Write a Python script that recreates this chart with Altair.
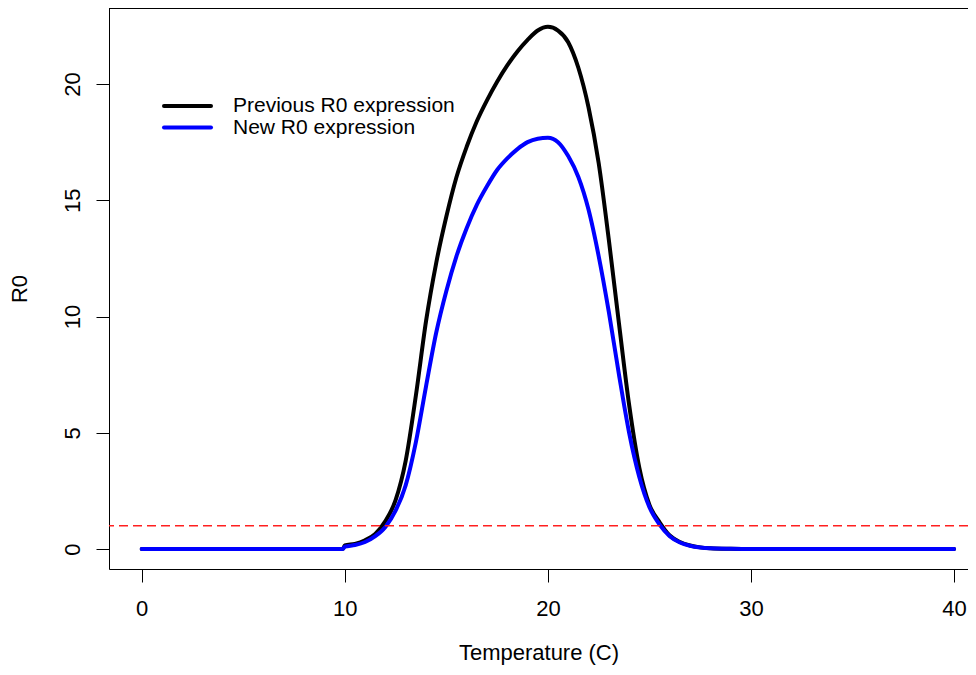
import altair as alt
import pandas as pd

# ---- data ----
temps = [0, 9.9, 10.0, 10.5, 11.0, 11.5, 12.0, 12.5, 13.0, 13.5, 14.0, 14.5, 15.0,
         15.5, 16.0, 16.5, 17.0, 17.5, 18.0, 18.5, 19.0, 19.5, 20.0, 20.5, 21.0,
         21.5, 22.0, 22.5, 23.0, 23.5, 24.0, 24.5, 25.0, 25.5, 26.0, 26.5, 27.0,
         27.5, 28.0, 29.0, 30.0, 40.0]
prev_r0 = [0, 0, 0.15, 0.22, 0.38, 0.65, 1.2, 2.1, 3.8, 6.6, 9.8, 12.3, 14.3,
           16.0, 17.3, 18.4, 19.3, 20.1, 20.8, 21.4, 21.9, 22.3, 22.46, 22.3, 21.8,
           20.7, 19.0, 16.6, 13.3, 9.7, 6.2, 3.5, 1.9, 1.15, 0.58, 0.3, 0.15,
           0.07, 0.035, 0.01, 0, 0]
new_r0 = [0, 0, 0.1, 0.17, 0.3, 0.55, 0.95, 1.65, 2.75, 4.6, 7.0, 9.3, 11.1,
          12.6, 13.8, 14.8, 15.6, 16.3, 16.8, 17.2, 17.5, 17.65, 17.69, 17.5, 16.9,
          16.0, 14.6, 12.6, 10.2, 7.5, 5.0, 3.1, 1.8, 1.05, 0.55, 0.28, 0.14,
          0.065, 0.03, 0.01, 0, 0]
series = ["Previous R0 expression", "New R0 expression"]
colors = ["#000000", "#0000ff"]
x_ticks = [0, 10, 20, 30, 40]
y_ticks = [0, 5, 10, 15, 20]
threshold = [1]

W, H = 859, 561
FONT = "Liberation Sans"
FS = 22
LFS = 21

df_prev = pd.DataFrame({"T": temps, "R0": prev_r0, "series": series[0]})
df_new = pd.DataFrame({"T": temps, "R0": new_r0, "series": series[1]})

xscale = alt.Scale(domain=[-1.61, 40.685], nice=False, zero=False)
yscale = alt.Scale(domain=[-0.86, 23.27], nice=False, zero=False)

xaxis = alt.Axis(values=x_ticks, title="Temperature (C)", grid=False, tickSize=13,
                 labelPadding=16, labelFontSize=FS, labelFont=FONT, labelColor="black",
                 titleFontSize=FS, titleFont=FONT, titleColor="black", titleFontWeight="normal",
                 titleY=83, titleBaseline="middle", labelFlush=False,
                 domainColor="black", tickColor="black", format="d")
yaxis = alt.Axis(values=y_ticks, title="R0", grid=False, tickSize=13,
                 labelAngle=270, labelAlign="center", labelBaseline="middle",
                 labelPadding=24, labelFontSize=FS, labelFont=FONT, labelColor="black",
                 titleFontSize=FS, titleFont=FONT, titleColor="black", titleFontWeight="normal",
                 titleAngle=270, titleX=-90, titleY=H / 2, titleAlign="center",
                 titleBaseline="middle", labelFlush=False,
                 domainColor="black", tickColor="black", format="d")


def curve(df, color):
    return alt.Chart(df).mark_line(strokeWidth=4, interpolate="monotone",
                                   strokeCap="round", color=color).encode(
        x=alt.X("T:Q", scale=xscale, axis=xaxis),
        y=alt.Y("R0:Q", scale=yscale, axis=yaxis),
    )


black = curve(df_prev, colors[0])
blue = curve(df_new, colors[1])

rule = alt.Chart(pd.DataFrame({"y": threshold})).mark_rule(
    color="#ff2020", strokeDash=[9, 5], strokeWidth=1.3
).encode(y=alt.Y("y:Q", scale=yscale))

top_border = alt.Chart(pd.DataFrame({"a": [0]})).mark_rule(color="black", strokeWidth=1).encode(
    x=alt.value(0), x2=alt.value(W), y=alt.value(0.5)
)

legend_layers = []
legend_y = [98, 119.5]
for label, col, ly in zip(series, colors, legend_y):
    legend_layers.append(
        alt.Chart(pd.DataFrame({"a": [0]})).mark_rule(color=col, strokeWidth=4, strokeCap="round").encode(
            x=alt.value(55), x2=alt.value(102), y=alt.value(ly)
        )
    )
    legend_layers.append(
        alt.Chart(pd.DataFrame({"a": [0]})).mark_text(
            align="left", baseline="middle", fontSize=LFS, font=FONT, color="black"
        ).encode(x=alt.value(124), y=alt.value(ly), text=alt.value(label))
    )

chart = alt.layer(black, blue, rule, top_border, *legend_layers).properties(
    width=W, height=H,
    autosize=alt.AutoSizeParams(type="none"),
    padding={"left": 101, "top": 0, "right": 0, "bottom": 98},
).configure_view(stroke=None).configure(background="white")

chart.save("out.html", embed_options={"renderer": "svg", "actions": False})
